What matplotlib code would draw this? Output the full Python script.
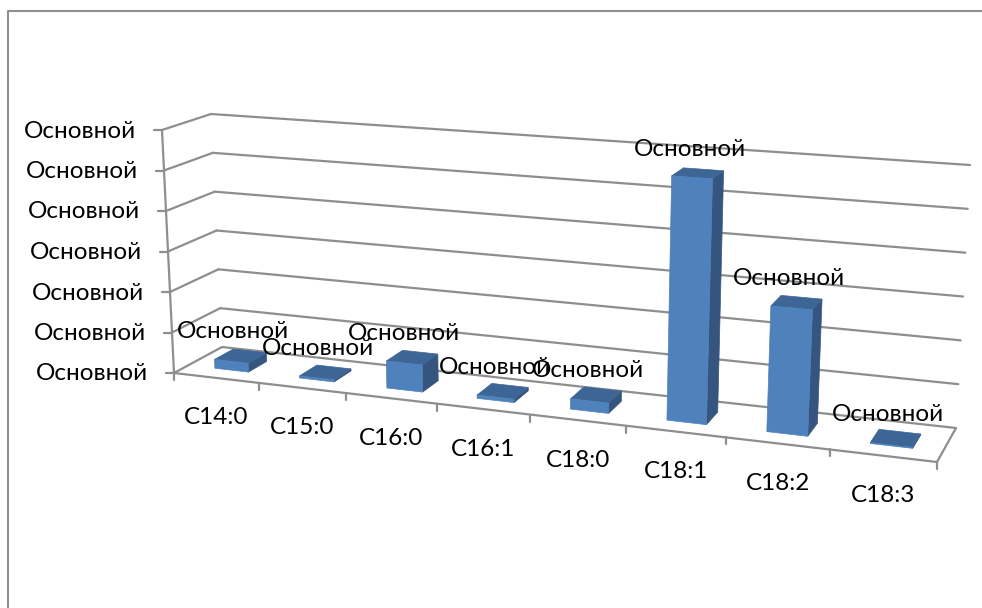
import matplotlib
matplotlib.use("Agg")
import matplotlib.pyplot as plt
import numpy as np

categories = ["C14:0", "C15:0", "C16:0", "C16:1", "C18:0", "C18:1", "C18:2", "C18:3"]
values = [0.22, 0.05, 0.65, 0.08, 0.24, 5.63, 2.85, 0.02]
value_label = "Основной"
n_grid = 6

plt.rcParams["font.family"] = ["Lato", "Open Sans", "DejaVu Sans"]
FS = 17.5
GREY = "#8e8e8e"

# corners of the 3d box in pixels: [u][h][d]
box = np.array([
    [[(174, 373), (222, 347)], [(162, 130), (211, 114)]],
    [[(937, 462), (956, 428)], [(952, 186), (970, 165)]],
], dtype=float)


def warp(u):
    # perspective squeeze along the category axis
    return u / (u + 1.144 * (1 - u))


def pt(u, h, d):
    s = warp(u)
    p = 0
    for i, a in enumerate((1 - s, s)):
        for j, b in enumerate((1 - h, h)):
            for k, c in enumerate((1 - d, d)):
                p = p + a * b * c * box[i, j, k]
    return p


def line(ax, a, b):
    ax.plot([a[0], b[0]], [a[1], b[1]], color=GREY, lw=1.6, solid_capstyle="round", zorder=1)


fig = plt.figure(figsize=(9.82, 6.08), dpi=100)
ax = fig.add_axes([0, 0, 1, 1])
ax.set_xlim(0, 982)
ax.set_ylim(608, 0)
ax.axis("off")

# outer frame, only top and left are inside the picture
ax.plot([8.5, 8.5, 982], [608, 10.5, 10.5], color="#8e8e8e", lw=1.5)

# walls and floor
for g in range(n_grid + 1):
    h = g / n_grid
    line(ax, pt(0, h, 0) + [-8, 0], pt(0, h, 0))
    line(ax, pt(0, h, 0), pt(0, h, 1))
    line(ax, pt(0, h, 1), pt(1, h, 1))
line(ax, pt(0, 0, 0), pt(0, 1, 0))
line(ax, pt(0, 0, 0), pt(1, 0, 0))
line(ax, pt(1, 0, 0), pt(1, 0, 1))
n = len(categories)
for i in range(1, n + 1):
    a = pt(i / n, 0, 0)
    line(ax, a, a + [0, 7])
line(ax, pt(0, 0, 0), pt(0, 0, 0) + [0, 7])

# bars, front face last
for i, v in enumerate(values):
    u0, u1 = (i + 0.32) / n, (i + 0.72) / n
    d0, d1 = 0.3, 0.7
    h = v / n_grid
    side = [pt(u1, 0, d0), pt(u1, 0, d1), pt(u1, h, d1), pt(u1, h, d0)]
    top = [pt(u0, h, d0), pt(u1, h, d0), pt(u1, h, d1), pt(u0, h, d1)]
    front = [pt(u0, 0, d0), pt(u1, 0, d0), pt(u1, h, d0), pt(u0, h, d0)]
    ax.fill(*zip(*side), color="#35557f", lw=0.5, zorder=2)
    ax.fill(*zip(*top), color="#3d6595", lw=0.5, zorder=2)
    ax.fill(*zip(*front), color="#4f81bd", lw=0.5, zorder=2)

# value axis labels
for g in range(n_grid + 1):
    p = pt(0, g / n_grid, 0)
    ax.text(p[0] - 26, p[1] + 1, value_label, fontsize=FS, ha="right", va="center", color="black", zorder=4)

# category labels
for i, c in enumerate(categories):
    p = pt((i + 0.5) / n, 0, 0)
    ax.text(p[0], p[1] + 40, c, fontsize=FS, ha="center", va="center", color="black", zorder=4)

# data labels sit just above the top of each bar
for i, v in enumerate(values):
    p = pt((i + 0.5) / n, v / n_grid, 0.5)
    ax.text(p[0] - 6, p[1] - 24, value_label, fontsize=FS, ha="center", va="center", color="black", zorder=4)

fig.savefig("out.png", dpi=100)
